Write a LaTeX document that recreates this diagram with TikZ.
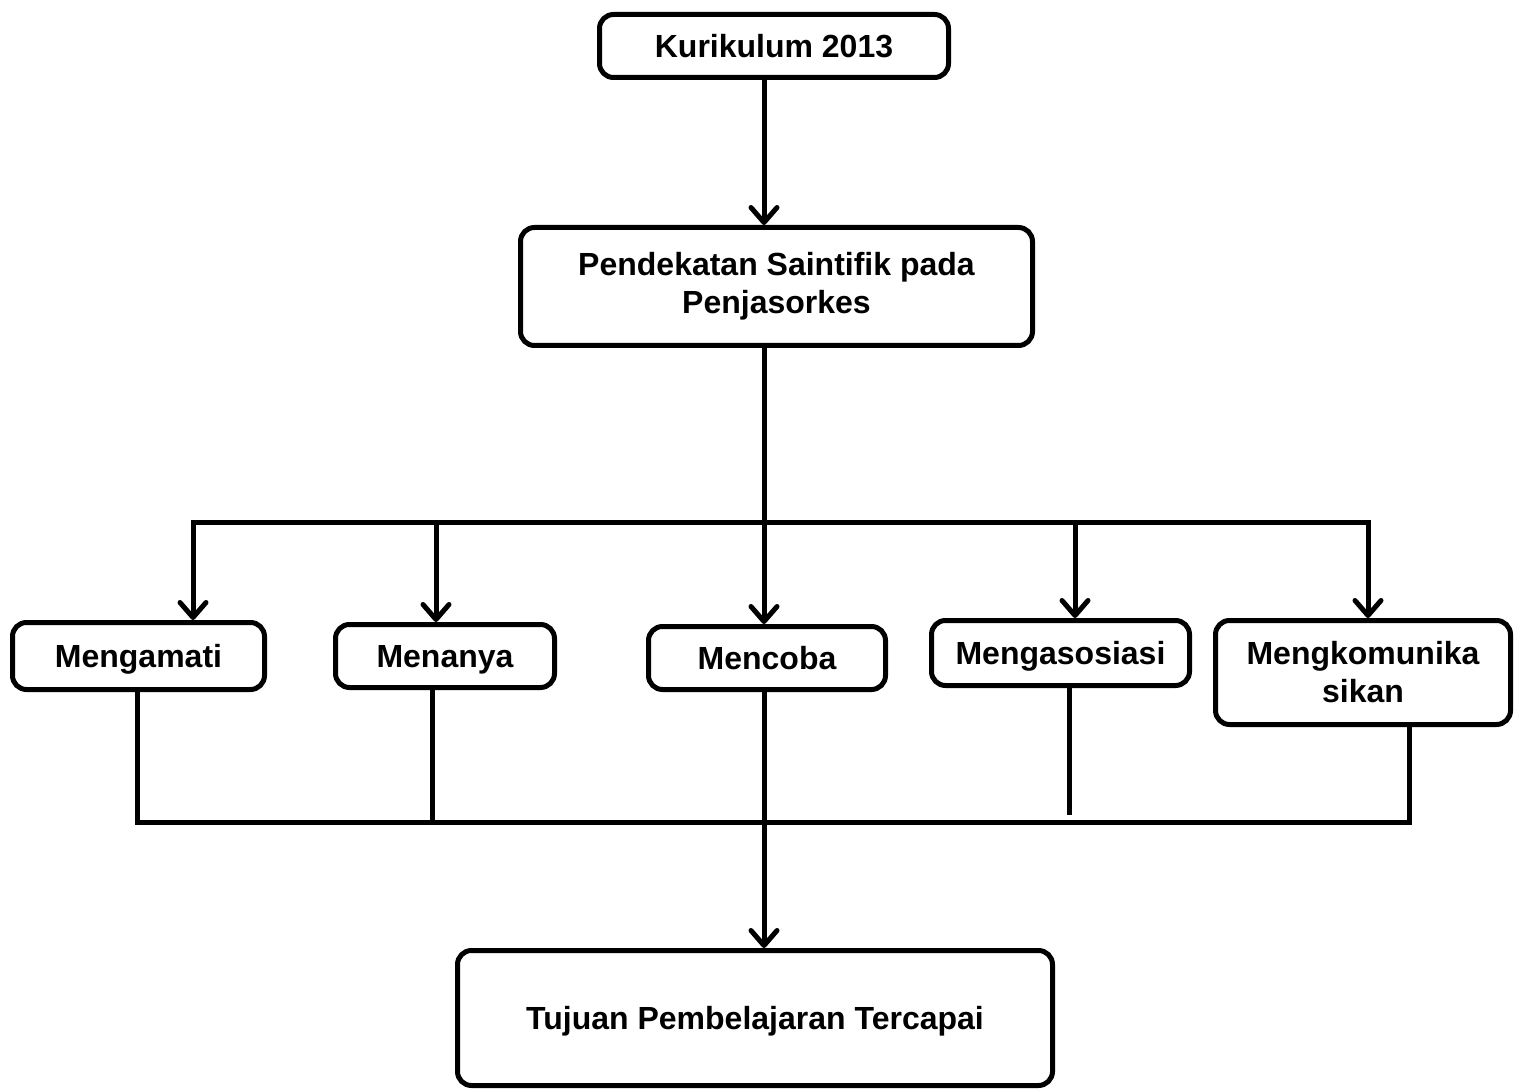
\documentclass[tikz,border=0pt]{standalone}
\usepackage{fontspec}
\setmainfont{Liberation Sans}
\usetikzlibrary{arrows.meta}
\begin{document}
\begin{tikzpicture}[x=0.5pt,y=-0.5pt,
  box/.style={draw, line width=2.5pt, rounded corners=7pt, inner sep=0pt, align=center,
    font=\bfseries\fontsize{16}{19}\selectfont, fill=white},
  onebox/.style={box, text height=11.6pt, text depth=0pt},
  conn/.style={line width=2.5pt, line join=miter},
  tip/.tip={Straight Barb[length=7.5pt, width=13pt, line cap=round, line join=round]},
  arr/.style={conn, -tip},
  arrs/.style={conn, tip-tip}]
\useasboundingbox (0,0) rectangle (1521,1091);
% nodes
\node[onebox, minimum width=174.5pt, minimum height=31.5pt] (k) at (774,46) {Kurikulum 2013};
\node[box, minimum width=256pt, minimum height=59pt] (p) at (776.5,286.5) {Pendekatan Saintifik pada\\Penjasorkes};
\node[onebox, minimum width=126pt, minimum height=33.5pt] (m1) at (138.5,656) {Mengamati};
\node[onebox, minimum width=109.5pt, minimum height=31.5pt] (m2) at (445,656) {Menanya};
\node[onebox, minimum width=118.5pt, minimum height=31.5pt] (m3) at (767,658) {Mencoba};
\node[onebox, minimum width=129pt, minimum height=32.5pt] (m4) at (1060.5,653) {Mengasosiasi};
\node[box, minimum width=147.5pt, minimum height=52pt] (m5) at (1363,672.5) {Mengkomunika\\sikan};
\node[onebox, minimum width=297.5pt, minimum height=67.5pt] (t) at (755,1018) {Tujuan Pembelajaran Tercapai};
% coordinates
\coordinate (cx) at (764,0);
\coordinate (a1) at (193,522);
\coordinate (a2) at (436,522);
\coordinate (a3) at (764,522);
\coordinate (a4) at (1075,522);
\coordinate (a5) at (1368,522);
\coordinate (b1) at (137,822);
\coordinate (b2) at (432,822);
\coordinate (b3) at (764,822);
\coordinate (b4) at (1069,815);
\coordinate (b5) at (1409,822);
% connectors
\draw[arr] (k.south -| cx) -- (p.north -| cx);
\draw[conn] (p.south -| cx) -- (a3);
\draw[arrs] (m1.north -| a1) -- (a1) -- (a5) -- (m5.north -| a5);
\draw[arr] (a2) -- (m2.north -| a2);
\draw[arr] (a3) -- (m3.north -| a3);
\draw[arr] (a4) -- (m4.north -| a4);
\draw[conn] (m1.south -| b1) -- (b1) -- (b5) -- (m5.south -| b5);
\draw[conn] (m2.south -| b2) -- (b2);
\draw[conn] (m4.south -| b4) -- (b4);
\draw[arr] (m3.south -| cx) -- (t.north -| cx);
\end{tikzpicture}
\end{document}
